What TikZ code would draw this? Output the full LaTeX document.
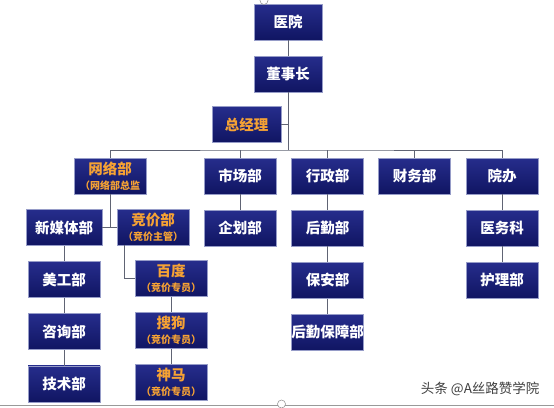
\documentclass[tikz,border=0pt]{standalone}
\usepackage{fontspec}
\newfontfamily\cjk{Noto Sans CJK SC}
\usetikzlibrary{positioning}

\definecolor{navytop}{RGB}{38,45,140}
\definecolor{navybot}{RGB}{16,21,98}
\definecolor{boxedge}{RGB}{150,156,200}
\definecolor{deptorange}{RGB}{246,162,52}
\definecolor{linkgray}{RGB}{96,100,116}

\newcommand{\dutyline}[1]{\\[-1pt]{\fontsize{10}{11}\selectfont #1}}

\begin{document}
\begin{tikzpicture}[
      x=1pt, y=1pt,
      node distance = 15.5pt and 15pt,
      unit/.style   = {rectangle, draw=boxedge, line width=0.6pt,
                       top color=navytop, bottom color=navybot,
                       minimum width=72pt, minimum height=36pt, inner sep=0pt,
                       align=center, text=white,
                       font=\cjk\bfseries\fontsize{14.5}{16}\selectfont},
      lead/.style   = {unit, text=deptorange},
      link/.style   = {draw=linkgray, line width=0.8pt},
    ]
    \fill[white] (0,0) rectangle (554,-407);
    \useasboundingbox (0,0) rectangle (554,-407);

    % Top of the chart
    \node[unit, minimum width=68pt] (hospital) at (288,-22) {医院};
    \node[unit, minimum width=68pt, below=of hospital] (chairman) {董事长};
    \node[lead, minimum width=69pt] (gm) at (246.5,-124.5) {总经理};

    % Departments
    \node[lead] (network) at (110,-176) {网络部\dutyline{（网络部总监}};
    \node[unit] (market)  at (240,-176) {市场部};
    \node[unit] (admin)   at (327.5,-176) {行政部};
    \node[unit] (finance) at (414.5,-176) {财务部};
    \node[unit] (office)  at (502,-176) {院办};

    % Network branch
    \node[unit, minimum width=76pt] (newmedia) at (64,-227.5) {新媒体部};
    \node[lead] (bidding) at (153,-227) {竞价部\dutyline{（竞价主管）}};
    \node[unit, below=of newmedia] (art)     {美工部};
    \node[unit, below=of art]      (consult) {咨询部};
    \node[unit, below=of consult]  (tech)    {技术部};
    \node[lead] (baidu) at (171,-278.5) {百度\dutyline{（竞价专员）}};
    \node[lead, below=of baidu]    (sogou)   {搜狗\dutyline{（竞价专员）}};
    \node[lead, below=of sogou]    (shenma)  {神马\dutyline{（竞价专员）}};

    % Other branches
    \node[unit, below=of market]    (planning)  {企划部};
    \node[unit, below=of admin]     (logistics) {后勤部};
    \node[unit, below=of logistics] (security)  {保安部};
    \node[unit, below=of security]  (support)   {后勤保障部};
    \node[unit, below=of office]    (medical)   {医务科};
    \node[unit, below=of medical]   (nursing)   {护理部};

    % Connectors
    \coordinate (bus) at (288,-150);
    \draw[link] (hospital) -- (chairman);
    \draw[link] (chairman) -- (bus);
    \draw[link] (gm.east) -- (gm.east -| chairman);
    \draw[link] (network.north) |- (bus) -| (office.north);
    \foreach \dept in {market, admin, finance}
      \draw[link] (\dept.north) -- (\dept.north |- bus);
    \draw[link] (network.south) -- (network.south |- newmedia);
    \draw[link] (newmedia.east) -- (newmedia.east -| bidding.west);
    \draw[link] ([xshift=-29pt]bidding.south) |- (baidu.west);
    \draw[link] (newmedia) -- (art) -- (consult) -- (tech);
    \draw[link] (baidu) -- (sogou) -- (shenma);
    \draw[link] (market) -- (planning);
    \draw[link] (admin) -- (logistics) -- (security) -- (support);
    \draw[link] (office) -- (medical) -- (nursing);

    % Watermark and frame edge
    \node[anchor=east, text=black!75, font=\cjk\fontsize{13.5}{15}\selectfont]
         (mark) at (543,-389) {头条 @A丝路赞学院};
    \draw[black!40, line width=0.8pt] (0,-405) -- (554,-405);
    \draw[black!45, fill=white, line width=0.5pt] (281.5,-404) circle (4);
    \draw[black!45, fill=white, line width=0.5pt] (264,-0.5) circle (4);
  \end{tikzpicture}
\end{document}
